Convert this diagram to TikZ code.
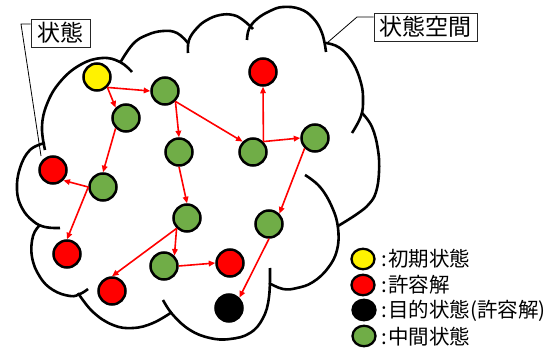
\documentclass[tikz,border=0pt]{standalone}
\usepackage{fontspec}
\newfontfamily\jp{Noto Sans CJK JP}
\usetikzlibrary{arrows.meta,shapes.geometric}
\definecolor{okgreen}{RGB}{112,173,71}
\tikzset{
  cloudline/.style={draw=black, line width=2.6pt, line cap=butt},
  st/.style={circle, draw=black, line width=2.5pt, minimum size=27pt, inner sep=0pt},
  yst/.style={st, fill=yellow},
  rst/.style={st, fill=red},
  gst/.style={st, fill=okgreen},
  bst/.style={st, fill=black},
  lg/.style={ellipse, draw=black, line width=2.3pt, minimum width=23pt, minimum height=20.5pt, inner sep=0pt},
  lgtext/.style={anchor=west, inner sep=0pt, font=\jp\fontsize{20.5}{21}\selectfont},
  lab/.style={draw=black!85, line width=0.8pt, inner sep=0pt, minimum height=28pt, font=\jp\fontsize{23}{23}\selectfont},
  leader/.style={draw=black, line width=0.8pt},
  ar/.style={draw=red, line width=1.6pt, -{Triangle[length=6.5pt,width=5.5pt]}}
}
\begin{document}
\begin{tikzpicture}[x=1pt,y=-1pt]
\useasboundingbox (0,0) rectangle (551,350);
% cloud outline arcs
\draw[cloudline] plot[smooth, tension=0.7] coordinates {(45,150) (42,127) (47,104) (60,82) (80,65) (102,58) (120,62) (132,72)};
\draw[cloudline] plot[smooth, tension=0.7] coordinates {(120,63) (133,44) (147,35) (163,31) (177,33) (188,43)};
\draw[cloudline] plot[smooth, tension=0.7] coordinates {(188,53) (189,40) (197,28) (207,20) (220,15) (233,15) (243,20) (253,29)};
\draw[cloudline] plot[smooth, tension=0.7] coordinates {(247,40) (249,29) (257,19) (270,11) (283,7) (300,9) (313,18) (322,33) (326,52)};
\draw[cloudline] plot[smooth, tension=0.7] coordinates {(326,43) (340,48) (353,63) (361,83) (363,100) (361,116) (352,133)};
\draw[cloudline] plot[smooth, tension=0.7] coordinates {(362,113) (372,127) (378,150) (379,172) (376,192) (369,204) (357,214) (338,226)};
\draw[cloudline] plot[smooth, tension=0.7] coordinates {(305,175) (320,187) (332,207) (338,228) (337,250) (328,268) (313,282) (297,288) (283,289) (269,283)};
\draw[cloudline] plot[smooth, tension=0.7] coordinates {(270,268) (269,297) (263,318) (250,333) (230,339) (210,338) (190,330) (173,315) (163,300)};
\draw[cloudline] plot[smooth, tension=0.7] coordinates {(78,293) (93,312) (113,325) (133,328) (153,323) (172,312)};
\draw[cloudline] plot[smooth, tension=0.7] coordinates {(40,225) (33,236) (32,257) (40,277) (53,290) (70,296) (80,294) (88,289)};
\draw[cloudline] plot[smooth, tension=0.7] coordinates {(45,143) (30,150) (20,168) (17,190) (22,208) (33,221) (45,227) (60,228)};
% state nodes
\node[yst] (Y) at (97,77) {};
\node[gst] (G1) at (165,91) {};
\node[gst] (G2) at (126,118) {};
\node[rst] (RT) at (263,72) {};
\node[gst] (G3) at (179,152) {};
\node[gst] (G4) at (253,152) {};
\node[gst] (G5) at (315,138) {};
\node[rst] (RL) at (53,170) {};
\node[gst] (G6) at (103,187) {};
\node[gst] (G7) at (187,218) {};
\node[gst] (G8) at (269,224) {};
\node[rst] (R3) at (67,254) {};
\node[gst] (G9) at (164,266) {};
\node[rst] (R4) at (230,263) {};
\node[rst] (R5) at (112,291) {};
\node[bst] (BK) at (229,308) {};
% transitions
\draw[ar] (Y.south east) -- (G1.west);
\draw[ar] (Y.south east) -- (G2.north west);
\draw[ar] (G1.south east) -- (G3.north);
\draw[ar] (G1.south east) -- (G4.north west);
\draw[ar] (G4.north east) -- (RT.south);
\draw[ar] (G4.north east) -- (G5.west);
\draw[ar] (G2.south west) -- (G6.north);
\draw[ar] (G6.west) -- (RL.south east);
\draw[ar] (G6.west) -- (R3.north);
\draw[ar] (G3.south) -- (G7.north);
\draw[ar] (G7.south west) -- (R5.north);
\draw[ar] (G7.south west) -- (G9.north east);
\draw[ar] (G9.east) -- (R4.west);
\draw[ar] (G5.south west) -- (G8.north east);
\draw[ar] (G8.south) -- (BK.north east);
% callouts
\node[lab, minimum width=59pt] (L1) at (60.5,33) {状態};
\node[lab, minimum width=103pt] (L2) at (425.5,27) {状態空間};
\coordinate (L1end) at (41,156);
\coordinate (L1bend) at (21,24);
\coordinate (L2end) at (327,43);
\coordinate (L2bend) at (357,17);
\draw[leader] ([yshift=9pt]L1.west) -- (L1bend) -- (L1end);
\draw[leader] ([yshift=10pt]L2.west) -- (L2bend) -- (L2end);
% legend
\node[lg, fill=yellow] (k1) at (363,259) {};
\node[lg, fill=red] (k2) at (363,285) {};
\node[lg, fill=black] (k3) at (364,310) {};
\node[lg, fill=okgreen] (k4) at (364,336) {};
\node[lgtext] (t1) at (381,259) {:\hspace{1.5pt}初期状態};
\node[lgtext] (t2) at (381,285) {:\hspace{1.5pt}許容解};
\node[lgtext] (t3) at (381,311) {:\hspace{1.5pt}目的状態(許容解)};
\node[lgtext] (t4) at (381,337) {:\hspace{1.5pt}中間状態};
\end{tikzpicture}
\end{document}
